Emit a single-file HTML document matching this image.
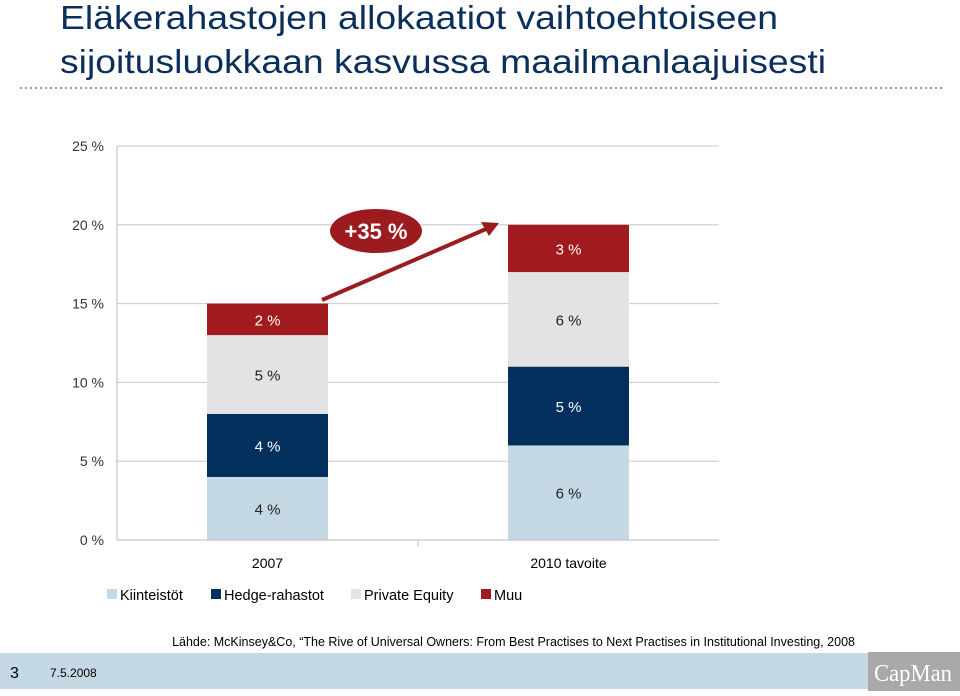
<!DOCTYPE html>
<html><head><meta charset="utf-8"><style>
body{margin:0;background:#fff;font-family:"Liberation Sans",sans-serif}
svg text{font-family:"Liberation Sans",sans-serif}
</style></head><body>
<svg width="960" height="691" viewBox="0 0 960 691" xmlns="http://www.w3.org/2000/svg">
<text x="60" y="29" font-size="33" fill="#0a2f5c" textLength="718" lengthAdjust="spacingAndGlyphs">Eläkerahastojen allokaatiot vaihtoehtoiseen</text>
<text x="60" y="73" font-size="33" fill="#0a2f5c" textLength="766" lengthAdjust="spacingAndGlyphs">sijoitusluokkaan kasvussa maailmanlaajuisesti</text>
<line x1="20" y1="88" x2="942" y2="88" stroke="#9a9a9a" stroke-width="2" stroke-dasharray="2,3"/>
<g id="grid"></g>
<g id="yticks"></g>
<g id="bars"></g>
<line x1="117" y1="540" x2="719" y2="540" stroke="#bbb"/>
<line x1="117" y1="146" x2="117" y2="540" stroke="#bbb"/>
<g id="xlabels"></g>
<line x1="322" y1="300" x2="486" y2="229" stroke="#9b1b1e" stroke-width="4"/>
<polygon points="499,223 481,222 489,236" fill="#9b1b1e"/>
<ellipse cx="376" cy="231" rx="46" ry="22" fill="#9b1b1e"/>
<text x="376" y="239" font-size="22" font-weight="bold" fill="#fff" text-anchor="middle">+35 %</text>
<g id="legend"></g>
<text x="855" y="646" font-size="12.5" fill="#000" text-anchor="end">Lähde: McKinsey&amp;Co, “The Rive of Universal Owners: From Best Practises to Next Practises in Institutional Investing, 2008</text>
<rect x="0" y="653" width="868" height="36" fill="#c5d9e4"/>
<text x="10" y="678" font-size="16" fill="#000">3</text>
<text x="50" y="677" font-size="12" fill="#000">7.5.2008</text>
<rect x="868" y="652" width="92" height="39" fill="#a9a9ab"/>
<text x="913" y="681" font-size="24" fill="#fff" text-anchor="middle" textLength="78" lengthAdjust="spacingAndGlyphs" style="font-family:'Liberation Serif',serif">CapMan</text>
</svg>
<script>
const categories=["2007","2010 tavoite"];
const seriesNames=["Kiinteistöt","Hedge-rahastot","Private Equity","Muu"];
const kiinteistot=[4,6];
const hedge=[4,5];
const privateEquity=[5,6];
const muu=[2,3];
const yTicks=[0,5,10,15,20,25];
const colors=["#c5d9e4","#04305e","#e3e3e3","#a01a1e"];
const labelColors=["#222","#fff","#222","#fff"];
const NS="http://www.w3.org/2000/svg";
const y0=540,yTop=146,vMax=25,xL=117,xR=719;
const y=v=>y0-(v/vMax)*(y0-yTop);
const band=(xR-xL)/categories.length;
const xc=i=>xL+band*(i+0.5);
const bw=121;
function mk(t,a,p){const e=document.createElementNS(NS,t);for(const k in a)e.setAttribute(k,a[k]);document.getElementById(p).appendChild(e);return e;}
yTicks.forEach(t=>{
 if(t>0){const g=mk('line',{x1:xL,x2:xR,y1:y(t),y2:y(t),stroke:'#c8c8c8'},'grid');
 
 }
 const tx=mk('text',{x:104,y:y(t)+5,'font-size':14,'text-anchor':'end',fill:'#333'},'yticks');
 tx.textContent=t+' %';
 
 
});
const series=[kiinteistot,hedge,privateEquity,muu];
categories.forEach((c,i)=>{
 let acc=0;
 series.forEach((s,j)=>{
  const v=s[i];
  const r=mk('rect',{x:xc(i)-bw/2,y:y(acc+v),width:bw,height:y(acc)-y(acc+v),fill:colors[j]},'bars');
  
  
  const tx=mk('text',{x:xc(i),y:(y(acc)+y(acc+v))/2+6,'font-size':15,'text-anchor':'middle',fill:labelColors[j]},'bars');
  tx.textContent=v+' %';
  
  
  acc+=v;
 });
 const lx=mk('text',{x:xc(i),y:568,'font-size':14,'text-anchor':'middle',fill:'#000'},'xlabels');
 lx.textContent=c;
 
 
 if(i>0){const tk=mk('line',{x1:xL+band*i,x2:xL+band*i,y1:y0,y2:y0+6,stroke:'#bbb'},'xlabels');
 
 }
});
const legX=[107,211,351,481];
seriesNames.forEach((n,j)=>{
 const r=mk('rect',{x:legX[j],y:589,width:10,height:10,fill:colors[j]},'legend');
 
 
 const t=mk('text',{x:legX[j]+13,y:600,'font-size':14.5,fill:'#000'},'legend');
 t.textContent=n;
 
 
});
</script>
</body></html>
